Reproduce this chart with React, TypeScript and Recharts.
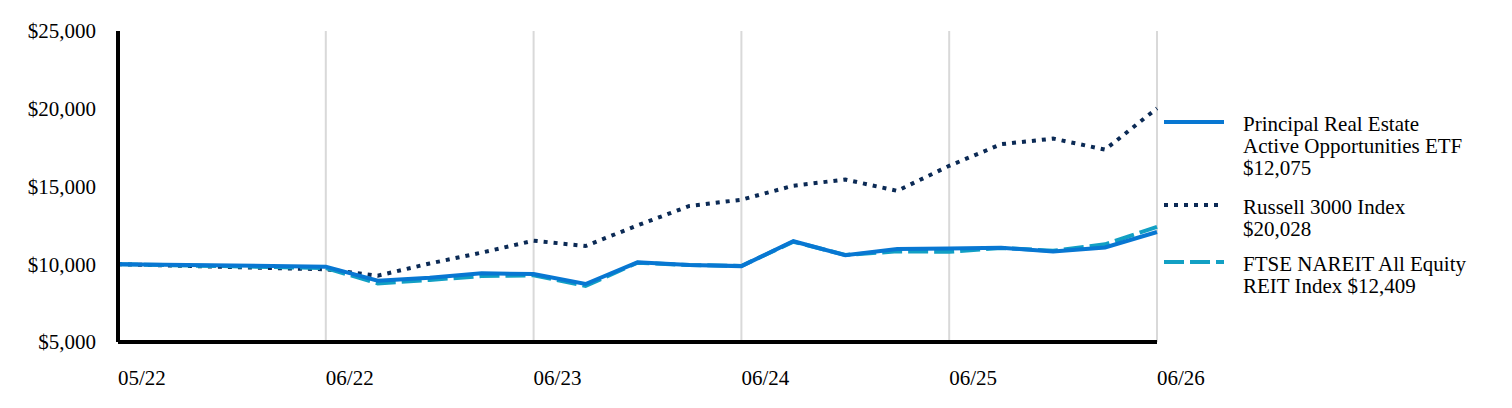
import { LineChart, Line, XAxis, YAxis, CartesianGrid } from 'recharts';

// quarter-end labels and their slot on the horizontal axis (05/22 is inception)
const periods = ['05/22', '06/22', '09/22', '12/22', '03/23', '06/23', '09/23', '12/23', '03/24', '06/24', '09/24', '12/24', '03/25', '06/25', '09/25', '12/25', '03/26', '06/26'];
const slots = [0, 4, 5, 6, 7, 8, 9, 10, 11, 12, 13, 14, 15, 16, 17, 18, 19, 20];

const fund = [10000, 9845, 8944, 9137, 9415, 9373, 8730, 10125, 9950, 9880, 11480, 10580, 10980, 11020, 11060, 10820, 11080, 12075];
const russell = [10000, 9675, 9265, 10050, 10750, 11515, 11174, 12500, 13750, 14150, 15050, 15450, 14720, 16330, 17720, 18080, 17370, 20028];
const ftse = [10000, 9760, 8770, 8990, 9240, 9290, 8600, 10100, 9950, 9890, 11450, 10600, 10830, 10800, 11050, 10870, 11280, 12409];

const xTicks = [0, 4, 8, 12, 16, 20];
const xTickLabels = ['05/22', '06/22', '06/23', '06/24', '06/25', '06/26'];
const yTicks = [5000, 10000, 15000, 20000, 25000];

const SERIES = [
  { key: 'russell', color: '#0b2a55', dash: '4 6', lines: ['Russell 3000 Index', '$20,028'] },
  { key: 'ftse', color: '#12a0c4', dash: '20 6', lines: ['FTSE NAREIT All Equity', 'REIT Index $12,409'] },
  { key: 'fund', color: '#0877d2', dash: undefined, lines: ['Principal Real Estate', 'Active Opportunities ETF', '$12,075'] },
];

const LEGEND_ORDER = ['fund', 'russell', 'ftse'];
const LEGEND_TOPS = [113, 196, 253];

const FONT = '"Liberation Serif", "Times New Roman", serif';

const data = periods.map((p, i) => ({
  period: p,
  slot: slots[i],
  fund: fund[i],
  russell: russell[i],
  ftse: ftse[i],
}));

function fmtDollar(v: number) {
  return '$' + v.toLocaleString('en-US');
}

function XTick({ x, y, payload }: any) {
  const idx = xTicks.indexOf(payload.value);
  return (
    <text x={x} y={y} dy="0.71em" textAnchor="start" fontSize={21} fontFamily={FONT} fill="#000">
      {xTickLabels[idx]}
    </text>
  );
}

export default function App() {
  return (
    <div style={{ position: 'absolute', left: 0, top: 0, width: 1512, height: 408, fontFamily: FONT, background: '#fff' }}>
      <LineChart width={1512} height={408} data={data} margin={{ top: 31, right: 355, bottom: 26, left: 0 }}>
        <CartesianGrid horizontal={false} stroke="#d9d9d9" strokeWidth={2} />
        <XAxis
          dataKey="slot"
          type="number"
          domain={[0, 20]}
          ticks={xTicks}
          height={40}
          tickLine={false}
          tickMargin={22}
          axisLine={{ stroke: '#000', strokeWidth: 4 }}
          tick={<XTick />}
        />
        <YAxis
          type="number"
          domain={[5000, 25000]}
          ticks={yTicks}
          width={118}
          tickLine={false}
          tickMargin={16}
          axisLine={{ stroke: '#000', strokeWidth: 4 }}
          tickFormatter={fmtDollar}
          tick={{ fontSize: 21, fontFamily: FONT, fill: '#000' }}
        />
        {SERIES.map((s) => (
          <Line
            key={s.key}
            type="linear"
            dataKey={s.key}
            stroke={s.color}
            strokeWidth={4}
            strokeDasharray={s.dash}
            dot={false}
            isAnimationActive={false}
          />
        ))}
      </LineChart>
      {LEGEND_ORDER.map((k, i) => {
        const s = SERIES.find((x) => x.key === k)!;
        return (
          <div key={k} style={{ position: 'absolute', left: 1164, top: LEGEND_TOPS[i], fontSize: 21, lineHeight: '22px' }}>
            <svg width={60} height={8} style={{ position: 'absolute', left: 0, top: 5 }}>
              <line x1={0} y1={4} x2={60} y2={4} stroke={s.color} strokeWidth={4} strokeDasharray={s.dash} />
            </svg>
            <div style={{ marginLeft: 79, whiteSpace: 'nowrap' }}>
              {s.lines.map((t) => (
                <div key={t}>{t}</div>
              ))}
            </div>
          </div>
        );
      })}
    </div>
  );
}
